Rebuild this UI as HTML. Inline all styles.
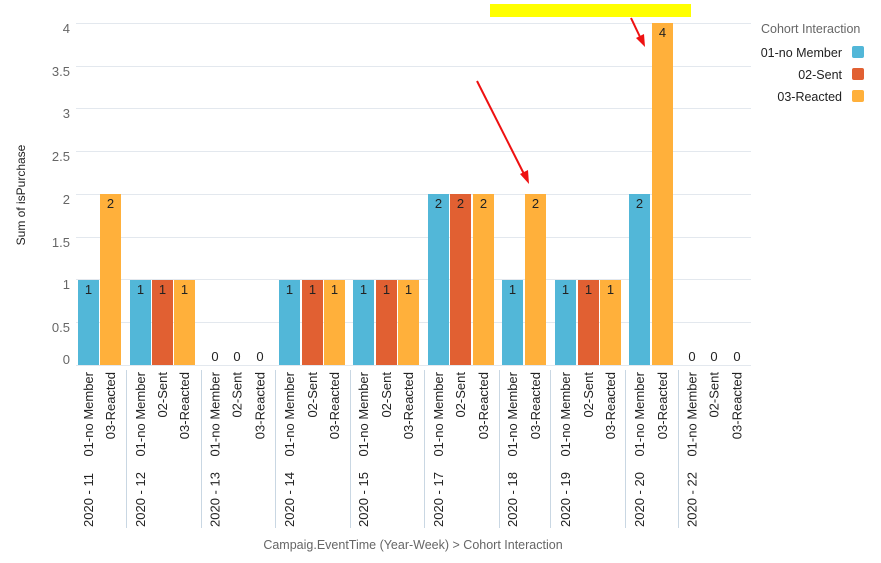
<!DOCTYPE html>
<html><head><meta charset="utf-8"><style>
html,body{margin:0;padding:0;background:#fff;}
svg{display:block;font-family:"Liberation Sans",sans-serif;}
</style></head><body>
<svg width="881" height="563" viewBox="0 0 881 563" xmlns="http://www.w3.org/2000/svg">
<g stroke="#e3e8ee" stroke-width="1">
<line x1="76" x2="751" y1="23.5" y2="23.5"/>
<line x1="76" x2="751" y1="66.5" y2="66.5"/>
<line x1="76" x2="751" y1="108.5" y2="108.5"/>
<line x1="76" x2="751" y1="151.5" y2="151.5"/>
<line x1="76" x2="751" y1="194.5" y2="194.5"/>
<line x1="76" x2="751" y1="237.5" y2="237.5"/>
<line x1="76" x2="751" y1="279.5" y2="279.5"/>
<line x1="76" x2="751" y1="322.5" y2="322.5"/>
<line x1="76" x2="751" y1="365.5" y2="365.5"/>
</g>
<g fill="#666" font-size="13" text-anchor="end">
<text x="70" y="33">4</text><text x="70" y="76">3.5</text><text x="70" y="118">3</text>
<text x="70" y="161">2.5</text><text x="70" y="204">2</text><text x="70" y="247">1.5</text>
<text x="70" y="289">1</text><text x="70" y="332">0.5</text><text x="70" y="364">0</text>
</g>
<text transform="translate(25,195) rotate(-90)" text-anchor="middle" font-size="12" fill="#222">Sum of isPurchase</text>
<g>
<rect x="78" y="280" width="21" height="85" fill="#52b7d8"/>
<rect x="100" y="194" width="21" height="171" fill="#ffb03b"/>
<rect x="130" y="280" width="21" height="85" fill="#52b7d8"/>
<rect x="152" y="280" width="21" height="85" fill="#e16032"/>
<rect x="174" y="280" width="21" height="85" fill="#ffb03b"/>
<rect x="279" y="280" width="21" height="85" fill="#52b7d8"/>
<rect x="302" y="280" width="21" height="85" fill="#e16032"/>
<rect x="324" y="280" width="21" height="85" fill="#ffb03b"/>
<rect x="353" y="280" width="21" height="85" fill="#52b7d8"/>
<rect x="376" y="280" width="21" height="85" fill="#e16032"/>
<rect x="398" y="280" width="21" height="85" fill="#ffb03b"/>
<rect x="428" y="194" width="21" height="171" fill="#52b7d8"/>
<rect x="450" y="194" width="21" height="171" fill="#e16032"/>
<rect x="473" y="194" width="21" height="171" fill="#ffb03b"/>
<rect x="502" y="280" width="21" height="85" fill="#52b7d8"/>
<rect x="525" y="194" width="21" height="171" fill="#ffb03b"/>
<rect x="555" y="280" width="21" height="85" fill="#52b7d8"/>
<rect x="578" y="280" width="21" height="85" fill="#e16032"/>
<rect x="600" y="280" width="21" height="85" fill="#ffb03b"/>
<rect x="629" y="194" width="21" height="171" fill="#52b7d8"/>
<rect x="652" y="23" width="21" height="342" fill="#ffb03b"/>
</g>
<g fill="#222" font-size="13" text-anchor="middle">
<text x="88.5" y="294">1</text><text x="110.5" y="208">2</text>
<text x="140.5" y="294">1</text><text x="162.5" y="294">1</text><text x="184.5" y="294">1</text>
<text x="215" y="361">0</text><text x="237" y="361">0</text><text x="260" y="361">0</text>
<text x="289.5" y="294">1</text><text x="312.5" y="294">1</text><text x="334.5" y="294">1</text>
<text x="363.5" y="294">1</text><text x="386.5" y="294">1</text><text x="408.5" y="294">1</text>
<text x="438.5" y="208">2</text><text x="460.5" y="208">2</text><text x="483.5" y="208">2</text>
<text x="512.5" y="294">1</text><text x="535.5" y="208">2</text>
<text x="565.5" y="294">1</text><text x="588.5" y="294">1</text><text x="610.5" y="294">1</text>
<text x="639.5" y="208">2</text><text x="662.5" y="37">4</text>
<text x="692" y="361">0</text><text x="714" y="361">0</text><text x="737" y="361">0</text>
</g>
<g stroke="#c9d7e3" stroke-width="1">
<line x1="126.5" x2="126.5" y1="370" y2="528"/>
<line x1="201.5" x2="201.5" y1="370" y2="528"/>
<line x1="275.5" x2="275.5" y1="370" y2="528"/>
<line x1="350.5" x2="350.5" y1="370" y2="528"/>
<line x1="424.5" x2="424.5" y1="370" y2="528"/>
<line x1="499.5" x2="499.5" y1="370" y2="528"/>
<line x1="550.5" x2="550.5" y1="370" y2="528"/>
<line x1="625.5" x2="625.5" y1="370" y2="528"/>
<line x1="678.5" x2="678.5" y1="370" y2="528"/>
</g>
<g fill="#222" font-size="13" text-anchor="end">
<text transform="translate(93,372) rotate(-90)">01-no Member</text>
<text transform="translate(115,372) rotate(-90)">03-Reacted</text>
<text transform="translate(145,372) rotate(-90)">01-no Member</text>
<text transform="translate(167,372) rotate(-90)">02-Sent</text>
<text transform="translate(189,372) rotate(-90)">03-Reacted</text>
<text transform="translate(219.5,372) rotate(-90)">01-no Member</text>
<text transform="translate(241.5,372) rotate(-90)">02-Sent</text>
<text transform="translate(264.5,372) rotate(-90)">03-Reacted</text>
<text transform="translate(294,372) rotate(-90)">01-no Member</text>
<text transform="translate(317,372) rotate(-90)">02-Sent</text>
<text transform="translate(339,372) rotate(-90)">03-Reacted</text>
<text transform="translate(368,372) rotate(-90)">01-no Member</text>
<text transform="translate(391,372) rotate(-90)">02-Sent</text>
<text transform="translate(413,372) rotate(-90)">03-Reacted</text>
<text transform="translate(443,372) rotate(-90)">01-no Member</text>
<text transform="translate(465,372) rotate(-90)">02-Sent</text>
<text transform="translate(488,372) rotate(-90)">03-Reacted</text>
<text transform="translate(517,372) rotate(-90)">01-no Member</text>
<text transform="translate(540,372) rotate(-90)">03-Reacted</text>
<text transform="translate(570,372) rotate(-90)">01-no Member</text>
<text transform="translate(593,372) rotate(-90)">02-Sent</text>
<text transform="translate(615,372) rotate(-90)">03-Reacted</text>
<text transform="translate(644,372) rotate(-90)">01-no Member</text>
<text transform="translate(667,372) rotate(-90)">03-Reacted</text>
<text transform="translate(696.5,372) rotate(-90)">01-no Member</text>
<text transform="translate(718.5,372) rotate(-90)">02-Sent</text>
<text transform="translate(741.5,372) rotate(-90)">03-Reacted</text>
</g>
<g fill="#222" font-size="13" text-anchor="start">
<text transform="translate(93,527) rotate(-90)">2020 - 11</text>
<text transform="translate(145,527) rotate(-90)">2020 - 12</text>
<text transform="translate(219.5,527) rotate(-90)">2020 - 13</text>
<text transform="translate(294,527) rotate(-90)">2020 - 14</text>
<text transform="translate(368,527) rotate(-90)">2020 - 15</text>
<text transform="translate(443,527) rotate(-90)">2020 - 17</text>
<text transform="translate(517,527) rotate(-90)">2020 - 18</text>
<text transform="translate(570,527) rotate(-90)">2020 - 19</text>
<text transform="translate(644,527) rotate(-90)">2020 - 20</text>
<text transform="translate(696.5,527) rotate(-90)">2020 - 22</text>
</g>
<text x="413" y="549" text-anchor="middle" font-size="12.5" fill="#666">Campaig.EventTime (Year-Week) &gt; Cohort Interaction</text>
<text x="761" y="33" font-size="12.5" fill="#666">Cohort Interaction</text>
<g font-size="12.5" fill="#222" text-anchor="end">
<text x="842" y="57">01-no Member</text>
<text x="842" y="79">02-Sent</text>
<text x="842" y="101">03-Reacted</text>
</g>
<rect x="852" y="46" width="12" height="12" rx="2" fill="#52b7d8"/>
<rect x="852" y="68" width="12" height="12" rx="2" fill="#e16032"/>
<rect x="852" y="90" width="12" height="12" rx="2" fill="#ffb03b"/>
<rect x="490" y="4" width="201" height="13" fill="#ffff00"/>
<g stroke="#ee1111" stroke-width="2" fill="#ee1111">
<line x1="477" y1="81" x2="525" y2="176"/>
<polygon points="529,184 520,174 528,170" stroke="none"/>
<line x1="631" y1="18" x2="641" y2="39"/>
<polygon points="645,47 636,38 644,34" stroke="none"/>
</g>
</svg>
</body></html>
